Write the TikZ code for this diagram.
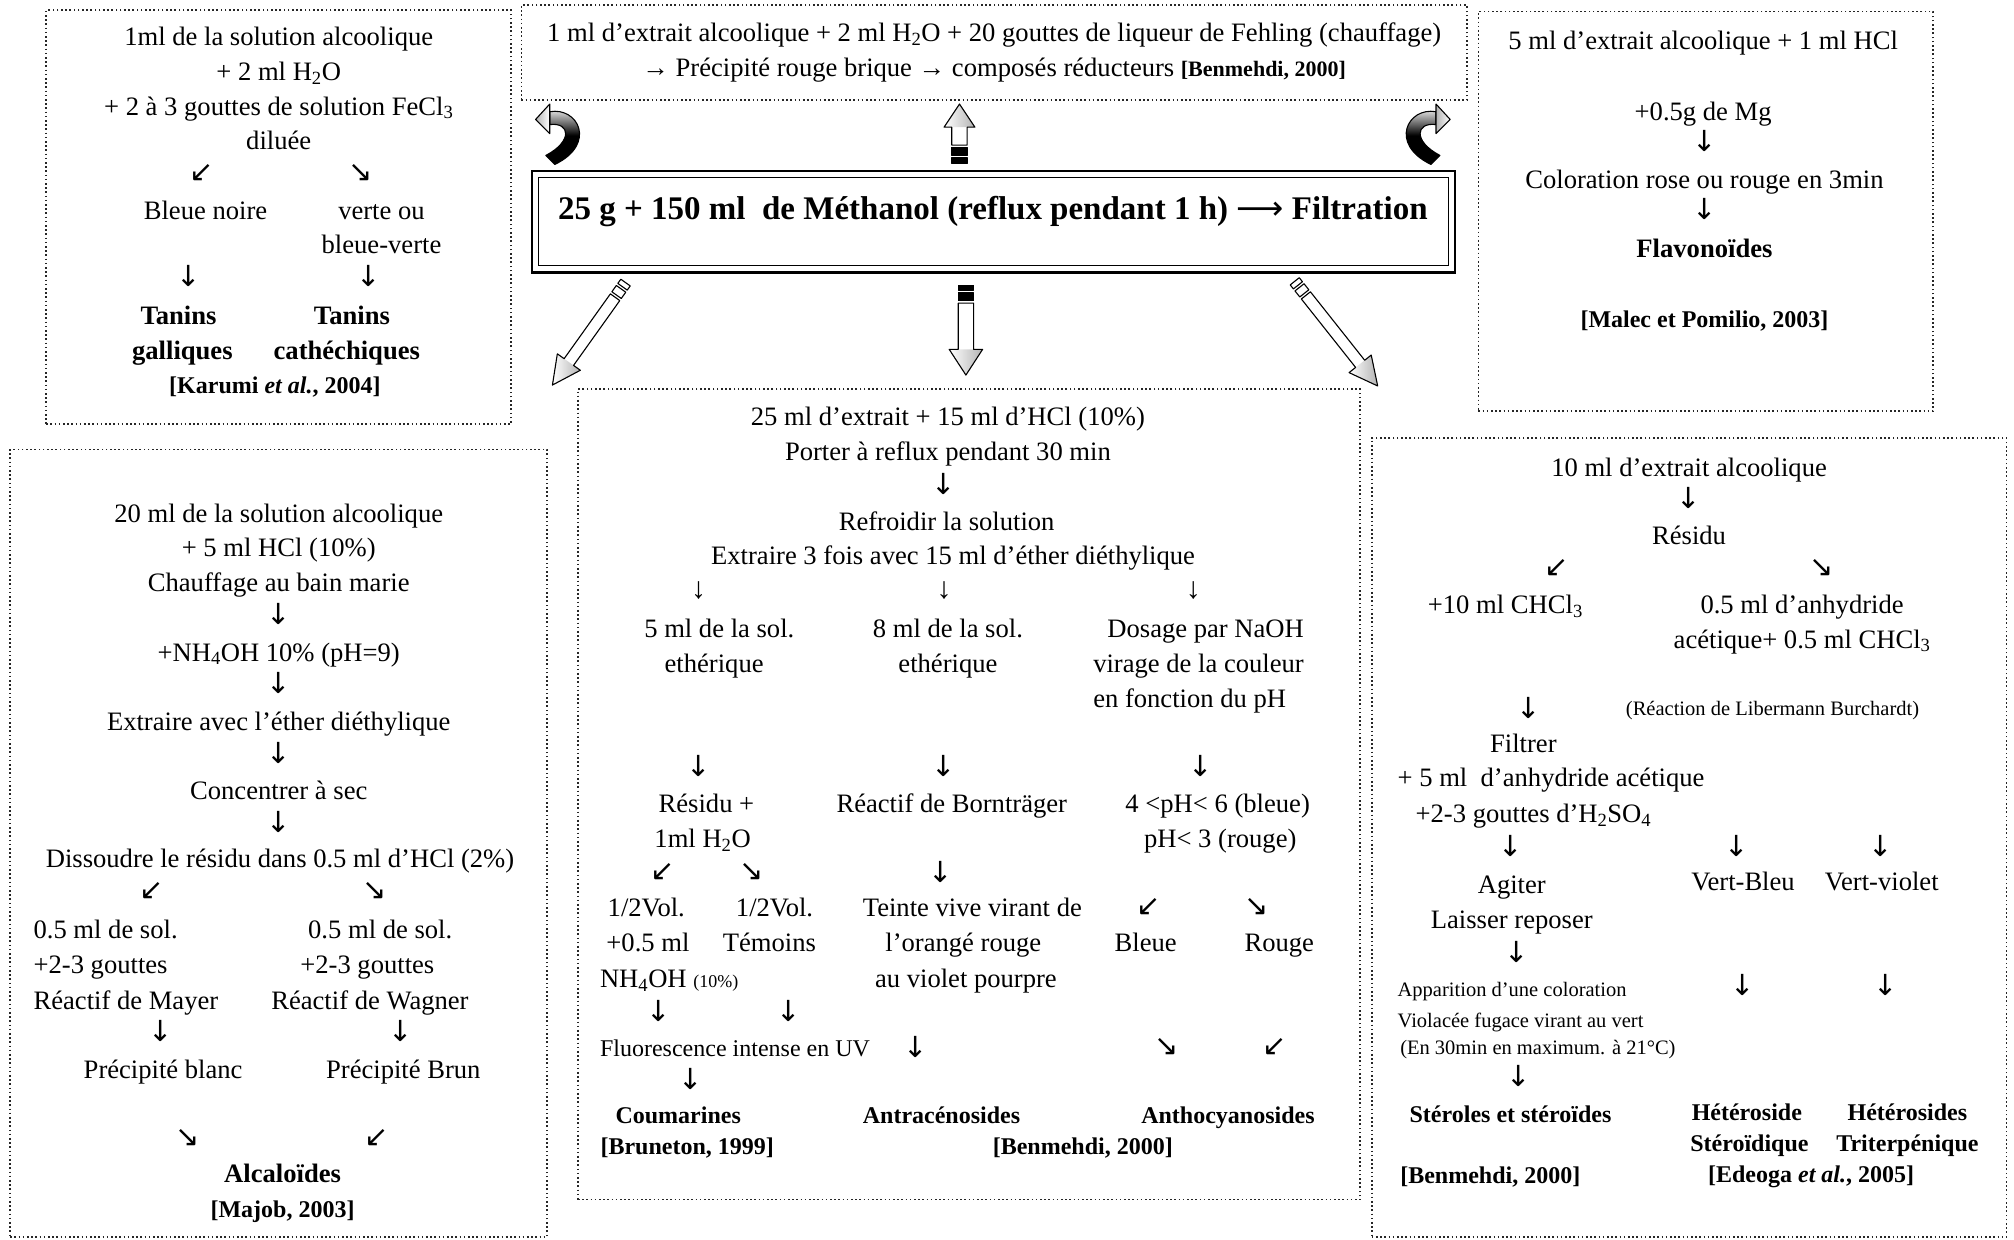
\documentclass[tikz,border=0pt]{standalone}
\usepackage{fontspec}
\setmainfont{Liberation Serif}
\newfontfamily\arrfont{DejaVu Sans}
\usetikzlibrary{fit}
\tikzset{
  txt/.style={anchor=mid, inner sep=0pt, yshift=-7.5pt, font=\fontsize{26.6}{34.7}\selectfont},
  txtl/.style={txt, anchor=mid west},
  bld/.style={txt, font=\fontsize{26.6}{34.7}\selectfont\bfseries},
  bsm/.style={txt, font=\fontsize{24}{30}\selectfont\bfseries},
  bsml/.style={bsm, anchor=mid west},
  sml/.style={anchor=mid, inner sep=0pt, yshift=-5pt, font=\fontsize{20.5}{26}\selectfont},
  smll/.style={sml, anchor=mid west},
  arr/.style={anchor=center, inner sep=0pt, font=\fontsize{29}{29}\arrfont},
  tarr/.style={anchor=center, inner sep=0pt, font=\fontsize{30}{32}\selectfont},
  dotbox/.style={draw=black!85, line width=1.6pt, dash pattern=on 1.6pt off 2.6pt, inner sep=0pt},
  blk/.style={draw=black, line width=1.1pt, line join=round},
  pics/barrow/.style n args={5}{code={
    \path[fill=white] (0,-#2) -- ({#1-#4},-#2) -- ({#1-#4},-#3) -- (#1,0) -- ({#1-#4},#3) -- ({#1-#4},#2) -- (0,#2) -- cycle;
    \shade[left color=white, right color=gray!60] ({#1-#4},-#3) -- (#1,0) -- ({#1-#4},#3) -- cycle;
    \draw[blk] (14,-#2) -- ({#1-#4},-#2) -- ({#1-#4},-#3) -- (#1,0) -- ({#1-#4},#3) -- ({#1-#4},#2) -- (14,#2) -- cycle;
    \draw[blk, fill=#5] (0,-#2) rectangle (4,#2);
    \draw[blk, fill=#5] (6,-#2) rectangle (12,#2);
  }},
  pics/carrow/.style={code={
    \draw[blk, top color=white, bottom color=black, middle color=black]
      (-8,-18) .. controls (14,-22) and (29,7) .. (-4,23) -- (-11,16)
      .. controls (10,5) and (8,-10) .. (-8,-8) -- cycle;
    \draw[blk, left color=gray!60, right color=white] (-19,-12) -- (-8,-24) -- (-8,-1) -- cycle;
  }}
}
\begin{document}
\begin{tikzpicture}[x=1.2844pt, y=-1.2844pt]
\useasboundingbox (0,0) rectangle (1568,965);
\fill[white] (0,0) rectangle (1568,965);

% ---------- dotted boxes ----------
\node[dotbox, fit={(36,8) (398,330)}] (boxT) {};
\node[dotbox, fit={(406,4) (1142,78)}] (boxF) {};
\node[dotbox, fit={(1151,9) (1505,320)}] (boxV) {};
\node[dotbox, fit={(8,350) (426,963)}] (boxA) {};
\node[dotbox, fit={(450,303) (1059,934)}] (boxC) {};
\node[dotbox, fit={(1068,341) (1562,963)}] (boxS) {};

% ---------- main box ----------
\node[draw, line width=2.4pt, inner sep=0pt, fit={(414,133) (1133,212)}] (mainout) {};
\node[draw, line width=1pt, inner sep=0pt, fit={(419,138) (1128,207)}] (mainin) {};
\node[txt, font=\fontsize{33}{36}\selectfont\bfseries] (main) at (773,163)
  {25 g + 150 ml\ \ de Méthanol (reflux pendant 1 h) {\arrfont\mdseries ⟶} Filtration};

% ---------- block arrows ----------
\coordinate (tUp) at (747,127);
\coordinate (tDL) at (487,220);
\coordinate (tDC) at (752,222);
\coordinate (tDR) at (1008,219);
\pic[rotate=90] at (tUp) {barrow={46}{6}{12}{18}{black}};
\pic[rotate=-90] at (tDC) {barrow={70}{6}{13}{20}{black}};
\pic[rotate=-125.5] at (tDL) {barrow={98}{4.5}{11}{22}{white}};
\pic[rotate=-51.6] at (tDR) {barrow={104}{4.5}{11}{22}{white}};
\coordinate (cL) at (436,105);
\coordinate (cR) at (1110,105);
\pic at (cL) {carrow};
\pic[xscale=-1] at (cR) {carrow};

% ---------- box T (tanins) ----------
\node[txt] (a1) at (217,28) {1ml de la solution alcoolique};
\node[txt] (a2) at (217,55) {+ 2 ml H\textsubscript{2}O};
\node[txt] (a3) at (217,82) {+ 2 à 3 gouttes de solution FeCl\textsubscript{3}};
\node[txt] (a4) at (217,109) {diluée};
\node[arr] (a5) at (157,135) {↙};
\node[arr] (a6) at (281,135) {↘};
\node[txt] (a7) at (160,163) {Bleue noire};
\node[txt] (a8) at (297,163) {verte ou};
\node[txt] (a9) at (297,190) {bleue-verte};
\node[arr] (a10) at (147,215) {↓};
\node[arr] (a11) at (287,215) {↓};
\node[bld] (a12) at (139,245) {Tanins};
\node[bld] (a13) at (274,245) {Tanins};
\node[bld] (a14) at (142,272) {galliques};
\node[bld] (a15) at (270,272) {cathéchiques};
\node[bsm] (a16) at (214,299) {[Karumi \textit{et al.}, 2004]};

% ---------- box F (Fehling) ----------
\node[txt] (b1) at (774,25) {1 ml d’extrait alcoolique + 2 ml H\textsubscript{2}O + 20 gouttes de liqueur de Fehling (chauffage)};
\node[txt] (b2) at (774,52) {→ Précipité rouge brique → composés réducteurs {\fontsize{22}{26}\selectfont\bfseries [Benmehdi, 2000]}};

% ---------- box V (flavonoides) ----------
\node[txt] (c1) at (1326,31) {5 ml d’extrait alcoolique + 1 ml HCl};
\node[txt] (c2) at (1326,86) {+0.5g de Mg};
\node[arr] (c3) at (1327,110) {↓};
\node[txt] (c4) at (1327,139) {Coloration rose ou rouge en 3min};
\node[arr] (c5) at (1327,163) {↓};
\node[bld] (c6) at (1327,193) {Flavonoïdes};
\node[bsm] (c7) at (1327,247) {[Malec et Pomilio, 2003]};

% ---------- box A (alcaloides) ----------
\node[txt] (d1) at (217,399) {20 ml de la solution alcoolique};
\node[txt] (d2) at (217,426) {+ 5 ml HCl (10\%)};
\node[txt] (d3) at (217,453) {Chauffage au bain marie};
\node[arr] (d4) at (217,478) {↓};
\node[txt] (d5) at (217,507) {+NH\textsubscript{4}OH 10\% (pH=9)};
\node[arr] (d6) at (217,532) {↓};
\node[txt] (d7) at (217,561) {Extraire avec l’éther diéthylique};
\node[arr] (d8) at (217,586) {↓};
\node[txt] (d9) at (217,615) {Concentrer à sec};
\node[arr] (d10) at (217,640) {↓};
\node[txt] (d11) at (218,668) {Dissoudre le résidu dans 0.5 ml d’HCl (2\%)};
\node[arr] (d12) at (118,694) {↙};
\node[arr] (d13) at (292,694) {↘};
\node[txtl] (d14) at (26,723) {0.5 ml de sol.};
\node[txtl] (d15) at (26,750) {+2-3 gouttes};
\node[txtl] (d16) at (26,778) {Réactif de Mayer};
\node[txt] (d17) at (296,723) {0.5 ml de sol.};
\node[txt] (d18) at (286,750) {+2-3 gouttes};
\node[txt] (d19) at (288,778) {Réactif de Wagner};
\node[arr] (d20) at (125,803) {↓};
\node[arr] (d21) at (312,803) {↓};
\node[txt] (d22) at (127,832) {Précipité blanc};
\node[txt] (d23) at (314,832) {Précipité Brun};
\node[arr] (d24) at (146,886) {↘};
\node[arr] (d25) at (293,886) {↙};
\node[bld] (d26) at (220,913) {Alcaloïdes};
\node[bsm] (d27) at (220,940) {[Majob, 2003]};

% ---------- box C (centre) ----------
\node[txt] (e1) at (738,324) {25 ml d’extrait + 15 ml d’HCl (10\%)};
\node[txt] (e2) at (738,351) {Porter à reflux pendant 30 min};
\node[arr] (e3) at (735,377) {↓};
\node[txt] (e4) at (737,405) {Refroidir la solution};
\node[txt] (e5) at (742,432) {Extraire 3 fois avec 15 ml d’éther diéthylique};
\node[tarr] (e6) at (544,460) {↓};
\node[tarr] (e7) at (735,460) {↓};
\node[tarr] (e8) at (929,460) {↓};
\node[txt] (e9) at (560,489) {5 ml de la sol.};
\node[txt] (e10) at (556,516) {ethérique};
\node[txt] (e11) at (738,489) {8 ml de la sol.};
\node[txt] (e12) at (738,516) {ethérique};
\node[txtl] (e13) at (862,489) {Dosage par NaOH};
\node[txtl] (e14) at (851,516) {virage de la couleur};
\node[txtl] (e15) at (851,543) {en fonction du pH};
\node[arr] (e16) at (544,596) {↓};
\node[arr] (e17) at (735,596) {↓};
\node[arr] (e18) at (935,596) {↓};
\node[txt] (e19) at (550,625) {Résidu +};
\node[txt] (e20) at (547,652) {1ml H\textsubscript{2}O};
\node[txt] (e21) at (741,625) {Réactif de Bornträger};
\node[txt] (e22) at (948,625) {4 <pH< 6 (bleue)};
\node[txt] (e23) at (950,652) {pH< 3 (rouge)};
\node[arr] (e24) at (516,679) {↙};
\node[arr] (e25) at (585,679) {↘};
\node[arr] (e26) at (732,679) {↓};
\node[txtl] (e27) at (473,706) {1/2Vol.};
\node[txtl] (e28) at (472,733) {+0.5 ml};
\node[txtl] (e29) at (467,761) {NH\textsubscript{4}OH {\fontsize{18}{20}\selectfont (10\%)}};
\node[txt] (e30) at (603,706) {1/2Vol.};
\node[txt] (e31) at (599,733) {Témoins};
\node[txt] (e32) at (757,706) {Teinte vive virant de};
\node[txt] (e33) at (750,733) {l’orangé rouge};
\node[txt] (e34) at (752,761) {au violet pourpre};
\node[arr] (e35) at (894,706) {↙};
\node[arr] (e36) at (978,706) {↘};
\node[txt] (e37) at (892,733) {Bleue};
\node[txt] (e38) at (996,733) {Rouge};
\node[arr] (e39) at (513,787) {↓};
\node[arr] (e40) at (614,787) {↓};
\node[txtl, font=\fontsize{24}{30}\selectfont] (e41) at (467,815) {Fluorescence intense en UV};
\node[arr] (e42) at (713,815) {↓};
\node[arr] (e43) at (908,815) {↘};
\node[arr] (e44) at (992,815) {↙};
\node[arr] (e45) at (538,840) {↓};
\node[bsm] (e46) at (528,867) {Coumarines};
\node[bsm] (e47) at (733,867) {Antracénosides};
\node[bsm] (e48) at (956,867) {Anthocyanosides};
\node[bsm] (e49) at (535,891) {[Bruneton, 1999]};
\node[bsm] (e50) at (843,891) {[Benmehdi, 2000]};

% ---------- box S (steroides) ----------
\node[txt] (f1) at (1315,363) {10 ml d’extrait alcoolique};
\node[arr] (f2) at (1315,388) {↓};
\node[txt] (f3) at (1315,416) {Résidu};
\node[arr] (f4) at (1212,442) {↙};
\node[arr] (f5) at (1418,442) {↘};
\node[txt] (f6) at (1172,470) {+10 ml CHCl\textsubscript{3}};
\node[txt] (f7) at (1403,470) {0.5 ml d’anhydride};
\node[txt] (f8) at (1403,497) {acétique+ 0.5 ml CHCl\textsubscript{3}};
\node[arr] (f9) at (1190,551) {↓};
\node[sml] (f10) at (1380,551) {(Réaction de Libermann Burchardt)};
\node[txt] (f11) at (1186,578) {Filtrer};
\node[txtl] (f12) at (1088,605) {+ 5 ml\ \ d’anhydride acétique};
\node[txtl] (f13) at (1102,633) {+2-3 gouttes d’H\textsubscript{2}SO\textsubscript{4}};
\node[arr] (f14) at (1176,659) {↓};
\node[arr] (f15) at (1352,659) {↓};
\node[arr] (f16) at (1464,659) {↓};
\node[txt] (f17) at (1177,688) {Agiter};
\node[txt] (f18) at (1357,686) {Vert-Bleu};
\node[txt] (f19) at (1465,686) {Vert-violet};
\node[txt] (f20) at (1177,715) {Laisser reposer};
\node[arr] (f21) at (1181,741) {↓};
\node[smll] (f22) at (1088,770) {Apparition d’une coloration};
\node[smll] (f23) at (1088,794) {Violacée fugace virant au vert};
\node[smll] (f24) at (1090,815) {(En 30min en maximum. à 21°C)};
\node[arr] (f25) at (1357,767) {↓};
\node[arr] (f26) at (1468,767) {↓};
\node[arr] (f27) at (1182,838) {↓};
\node[bsm] (f28) at (1176,866) {Stéroles et stéroïdes};
\node[bsm] (f29) at (1360,865) {Hétéroside};
\node[bsm] (f30) at (1485,865) {Hétérosides};
\node[bsm] (f31) at (1362,889) {Stéroïdique};
\node[bsm] (f32) at (1485,889) {Triterpénique};
\node[bsml] (f33) at (1090,914) {[Benmehdi, 2000]};
\node[bsm] (f34) at (1410,913) {[Edeoga \textit{et al.}, 2005]};
\end{tikzpicture}
\end{document}
